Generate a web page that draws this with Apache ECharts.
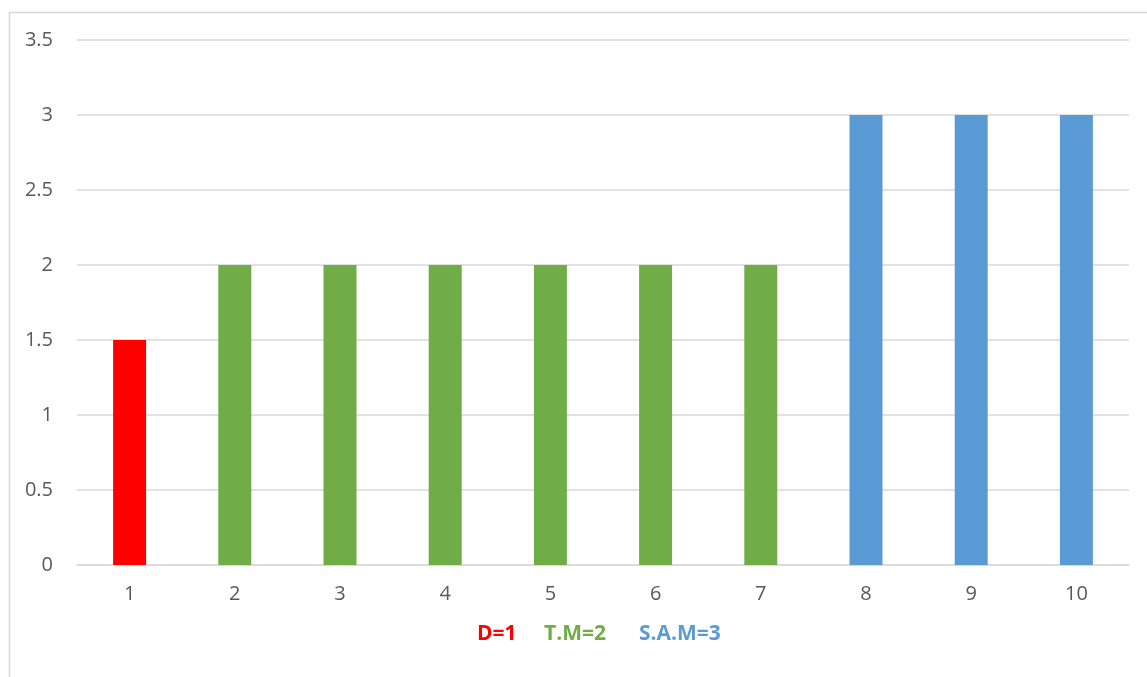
<!DOCTYPE html>
<html>
<head>
<meta charset="utf-8">
<script src="https://cdn.jsdelivr.net/npm/echarts@6/dist/echarts.min.js"></script>
<style>html,body{margin:0;padding:0;background:#fff;}#c{width:1147px;height:677px;}</style>
</head>
<body>
<div id="c"></div>
<script>
var categories = ['1','2','3','4','5','6','7','8','9','10'];
var values = [1.5, 2, 2, 2, 2, 2, 2, 3, 3, 3];
var groups = ['D','T.M','T.M','T.M','T.M','T.M','T.M','S.A.M','S.A.M','S.A.M'];
var groupColors = {'D':'#FF0000','T.M':'#70AD47','S.A.M':'#5B9BD5'};
var legendKeys = ['D','T.M','S.A.M'];
var legendLabels = ['D=1','T.M=2','S.A.M=3'];

var chart = echarts.init(document.getElementById('c'));
var font = '"Open Sans", "Noto Sans", sans-serif';
var legendX = [477, 544, 639];
var graphics = [{
  type: 'rect', left: 7, top: 10, z: -1,
  shape: {x: 0, y: 0, width: 1200, height: 720},
  style: {fill: 'none', stroke: '#d9d9d9', lineWidth: 1.5}
}];
legendLabels.forEach(function (t, i) {
  graphics.push({
    type: 'text', x: legendX[i], y: 634,
    style: {text: t, fill: groupColors[legendKeys[i]], font: 'bold 21px ' + font,
            textVerticalAlign: 'middle', verticalAlign: 'middle'}
  });
});
chart.setOption({
  animation: false,
  backgroundColor: '#fff',
  textStyle: {fontFamily: font},
  grid: {left: 77, right: 18, top: 40, bottom: 112},
  graphic: graphics,
  xAxis: {
    type: 'category',
    data: categories,
    axisTick: {show: false},
    axisLine: {lineStyle: {color: '#d9d9d9', width: 1.5}},
    axisLabel: {color: '#595959', fontSize: 20, margin: 19, fontFamily: font}
  },
  yAxis: {
    type: 'value', min: 0, max: 3.5, interval: 0.5,
    axisLine: {show: false}, axisTick: {show: false},
    splitLine: {lineStyle: {color: '#d9d9d9', width: 1.5}},
    axisLabel: {color: '#595959', fontSize: 20, margin: 24, fontFamily: font}
  },
  series: [{
    type: 'bar',
    barWidth: 33,
    data: values.map(function (v, i) {
      return {value: v, itemStyle: {color: groupColors[groups[i]]}};
    })
  }]
});
</script>
</body>
</html>
